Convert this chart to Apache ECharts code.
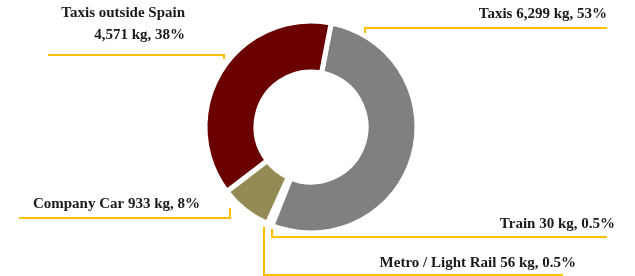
<!DOCTYPE html>
<html>
<head>
<meta charset="utf-8">
<script src="https://cdn.jsdelivr.net/npm/echarts@6/dist/echarts.min.js"></script>
<style>
  html, body { margin: 0; padding: 0; background: #fff; }
  #chart { width: 635px; height: 276px; }
</style>
</head>
<body>
<div id="chart"></div>
<script>
  // data
  let names = ['Taxis', 'Train', 'Metro / Light Rail', 'Company Car', 'Taxis outside Spain']
  let values = [6299, 30, 56, 933, 4571]
  let pctLabels = ['53%', '0.5%', '0.5%', '8%', '38%']
  let colors = ['#808080', '#808080', '#808080', '#948A54', '#6B0000']

  // label positions + elbow leader lines (px)
  let labelPos = [
    { x: 607, y: 14, line: [[365, 34], [365, 28], [607, 28]] },
    { x: 615, y: 224, line: [[272, 229], [272, 237], [607, 237]] },
    { x: 576, y: 263, line: [[264, 227], [264, 275], [563, 275]] },
    { x: 200, y: 204, line: [[230, 208], [230, 218], [19, 218]] },
    { x: 185, y: 24, line: [[224, 59], [224, 55], [48, 55]] }
  ]

  function fmt(v) {
    return v.toString().replace(/\B(?=(\d{3})+(?!\d))/g, ',')
  }

  let myChart = echarts.init(document.getElementById('chart'))
  let option = {
    animation: false,
    series: [{
      type: 'pie',
      center: [311, 127],
      radius: [55, 106],
      startAngle: 79,
      clockwise: true,
      itemStyle: {
        borderColor: '#fff',
        borderWidth: 5
      },
      label: {
        show: true,
        position: 'outside',
        overflow: 'none',
        fontFamily: 'Liberation Serif',
        fontWeight: 'bold',
        fontSize: 15,
        color: '#1a1a1a',
        lineHeight: 22,
        align: 'right',
        formatter: function (p) {
          let sep = p.dataIndex === 4 ? '\n' : ' '
          return p.name + sep + fmt(p.value) + ' kg, ' + pctLabels[p.dataIndex]
        }
      },
      labelLine: {
        show: true,
        lineStyle: { color: '#FFC000', width: 2 }
      },
      labelLayout: function (params) {
        let lp = labelPos[params.dataIndex]
        return {
          x: lp.x,
          y: lp.y,
          align: 'right',
          verticalAlign: 'middle',
          labelLinePoints: lp.line
        }
      },
      data: names.map(function (n, i) {
        return { name: n, value: values[i], itemStyle: { color: colors[i] } }
      })
    }]
  }
  myChart.setOption(option)
</script>
</body>
</html>
